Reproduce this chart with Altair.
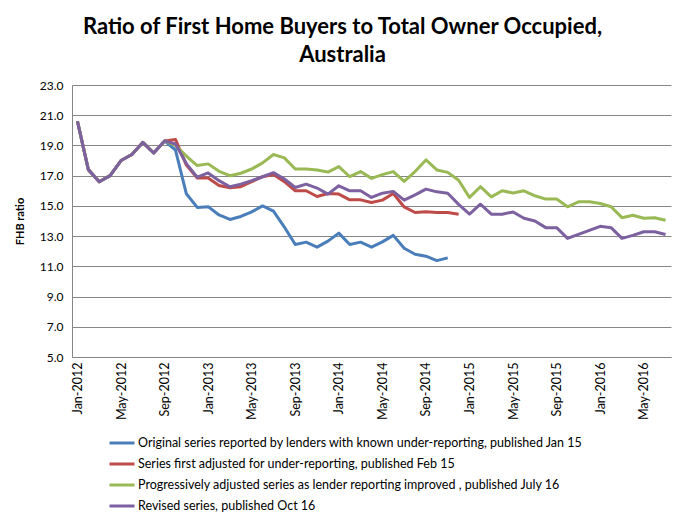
import altair as alt
import pandas as pd

MONTH_NAMES = ["Jan", "Feb", "Mar", "Apr", "May", "Jun", "Jul", "Aug", "Sep", "Oct", "Nov", "Dec"]
months = [f"{MONTH_NAMES[m]}-{y}" for y in range(2012, 2017) for m in range(12)][:55]  # Jan-2012 .. Jul-2016
tick_labels = months[::4]

series_names = [
    "Original series reported by lenders with known under-reporting, published Jan 15",
    "Series first adjusted for under-reporting, published Feb 15",
    "Progressively adjusted series as lender reporting improved , published July 16",
    "Revised series, published Oct 16",
]
series_colors = ["#4A7EBB", "#BE4B48", "#98B954", "#7D60A0"]

common = [20.6, 17.4, 16.6, 17.0, 18.0, 18.4, 19.2, 18.5, 19.3]

original = common + [18.7, 15.8, 14.9, 14.95, 14.4, 14.1, 14.3, 14.6, 15.0, 14.65,
                     13.6, 12.45, 12.6, 12.27, 12.67, 13.2, 12.45, 12.6, 12.27, 12.62,
                     13.05, 12.2, 11.8, 11.67, 11.38, 11.56]
first_adj = common + [19.4, 17.7, 16.85, 16.85, 16.35, 16.2, 16.27, 16.6, 16.93, 17.07,
                      16.6, 16.0, 16.0, 15.62, 15.82, 15.78, 15.4, 15.4, 15.22, 15.38,
                      15.82, 14.93, 14.56, 14.62, 14.56, 14.56, 14.44]
progressive = common + [19.0, 18.3, 17.67, 17.78, 17.29, 17.0, 17.16, 17.44, 17.85, 18.4,
                        18.18, 17.44, 17.44, 17.38, 17.24, 17.6, 16.93, 17.27, 16.82, 17.07,
                        17.27, 16.62, 17.27, 18.04, 17.38, 17.22, 16.7, 15.56, 16.27, 15.6,
                        16.0, 15.85, 16.0, 15.67, 15.45, 15.45, 14.94, 15.27, 15.27, 15.16,
                        14.94, 14.22, 14.38, 14.18, 14.22, 14.05]
revised = common + [19.1, 17.8, 16.9, 17.18, 16.67, 16.27, 16.44, 16.67, 16.93, 17.2,
                    16.78, 16.22, 16.44, 16.18, 15.78, 16.33, 16.0, 16.0, 15.56, 15.84,
                    15.96, 15.38, 15.73, 16.11, 15.93, 15.84, 15.1, 14.45, 15.11, 14.45,
                    14.45, 14.6, 14.18, 14.0, 13.56, 13.56, 12.85, 13.11, 13.38, 13.65,
                    13.56, 12.85, 13.05, 13.29, 13.29, 13.11]

rows = []
for name, vals in zip(series_names, [original, first_adj, progressive, revised]):
    for i, v in enumerate(vals):
        rows.append({"month": months[i], "series": name, "value": v})
df = pd.DataFrame(rows)

FONT = "Lato"

chart = alt.Chart(df).mark_line(strokeWidth=3, strokeJoin="round").encode(
    x=alt.X("month:O", sort=months,
            scale=alt.Scale(type="point", padding=0.5),
            axis=alt.Axis(title=None, values=tick_labels, labelAngle=270, ticks=False,
                          labelFontSize=12.5, labelFont=FONT, labelColor="#000000",
                          domainColor="#868686", labelPadding=5, grid=False)),
    y=alt.Y("value:Q", scale=alt.Scale(domain=[5, 23], nice=False, zero=False),
            axis=alt.Axis(title="FHB ratio", values=[5, 7, 9, 11, 13, 15, 17, 19, 21, 23],
                          format=".1f", ticks=False, labelFontSize=12, labelFont=FONT,
                          labelColor="#000000", domainColor="#868686", gridColor="#868686",
                          labelPadding=9, titleFont=FONT, titleFontSize=11,
                          titleFontWeight="bold", titlePadding=14, titleColor="#000000")),
    color=alt.Color("series:N", scale=alt.Scale(domain=series_names, range=series_colors),
                    legend=alt.Legend(title=None, orient="none", legendX=36, legendY=344,
                                      direction="vertical", symbolType="stroke",
                                      symbolStrokeWidth=3, symbolSize=625, labelOffset=2,
                                      labelFontSize=12.5, labelFont=FONT, labelColor="#000000",
                                      labelLimit=600, rowPadding=0)),
).properties(
    width=599, height=272,
    padding={"left": 64, "top": 77, "right": 6, "bottom": 160},
    autosize=alt.AutoSizeParams(type="none"),
    title=alt.TitleParams(
        text=["Ratio of First Home Buyers to Total Owner Occupied,", "Australia"],
        font=FONT, fontSize=22, fontWeight="bold", color="#000000",
        anchor="middle", frame="group", dx=-29, offset=12, lineHeight=28),
).configure_view(strokeWidth=0)

chart.save("out.html", embed_options={"renderer": "svg", "actions": False})
